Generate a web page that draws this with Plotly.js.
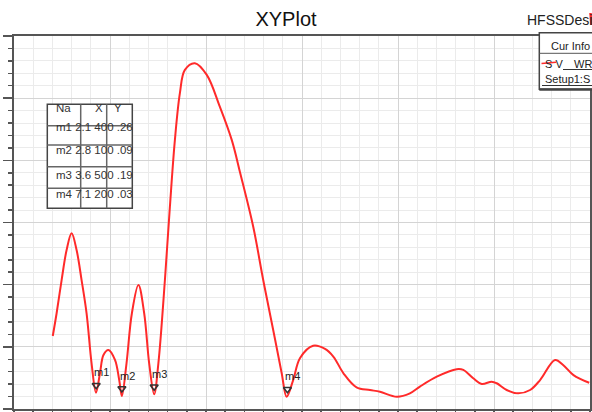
<!DOCTYPE html>
<html><head><meta charset="utf-8">
<script src="https://cdn.plot.ly/plotly-3.0.1.min.js"></script>
<style>html,body{margin:0;padding:0;background:#fff;}#plot{width:592px;height:412px;}</style>
</head><body><div id="plot"></div>
<script>
// Frequency (x) and curve values (y)
const freq = [1.01,1.11,1.24,1.37,1.50,1.63,1.76,1.89,2.02,2.135,2.24,2.33,2.46,2.63,2.74,2.81,2.93,3.07,3.24,3.39,3.52,3.65,3.76,3.93,4.06,4.19,4.32,4.45,4.71,5.02,5.36,5.67,5.89,6.23,6.49,6.75,6.97,7.10,7.27,7.45,7.79,8.10,8.32,8.58,8.92,9.27,9.53,9.97,10.31,10.57,11.01,11.53,11.70,11.96,12.18,12.44,12.57,12.83,13.13,13.44,13.70,14.09,14.30,14.57,14.98];
const vals = [4.11,5.39,7.26,8.95,9.89,8.95,7.26,5.39,2.57,0.92,2.03,3.04,3.32,2.76,1.63,0.73,2.57,5.39,6.98,5.39,2.57,0.83,2.57,7.26,11.39,15.15,17.78,19.09,19.47,18.81,17.02,15.15,13.29,10.26,7.26,4.45,2.03,0.69,1.63,2.87,3.56,3.38,2.94,2.01,1.22,1.07,0.97,0.69,0.88,1.26,1.82,2.24,2.20,1.73,1.41,1.54,1.45,1.07,0.88,1.07,1.63,2.76,2.48,1.91,1.48];

// Markers
const markerNames = ['m1','m2','m3','m4'];
const markerX = [2.14, 2.81, 3.65, 7.12];
const markerY = [0.92, 0.73, 0.83, 0.69];
const markerXText = ['2.1 400','2.8 100','3.6 500','7.1 200'];
const markerYText = ['.26','.09','.19','.03'];
const tableHeader = ['Na','X','Y'];

// pixel -> paper helpers for decorations
const L=14, R=590, T=36, B=409;
const PX = p => (p-L)/(R-L);
const PY = p => (B-p)/(B-T);
const FONT = 'Arial, "Liberation Sans", sans-serif';

const traces = [
  {x: freq, y: vals, type:'scatter', mode:'lines',
   line:{color:'#ff2a2a', width:2, shape:'spline', smoothing:1.0}, hoverinfo:'skip'},
  {x: markerX, y: markerY.map(v=>v+0.42), type:'scatter', mode:'markers',
   marker:{symbol:'triangle-down-open', size:7, color:'#333', line:{width:1.5, color:'#333'}}, hoverinfo:'skip'}
];

const shapes = [];
const annotations = [];
function line(x0,y0,x1,y1,color,width){
  shapes.push({type:'line', xref:'paper', yref:'paper', x0:PX(x0), y0:PY(y0), x1:PX(x1), y1:PY(y1), line:{color:color, width:width}});
}
function rect(x0,y0,x1,y1,color,width){
  shapes.push({type:'rect', xref:'paper', yref:'paper', x0:PX(x0), y0:PY(y0), x1:PX(x1), y1:PY(y1), fillcolor:'#ffffff', line:{color:color, width:width}});
}
function text(t,x,y,size,anchor,color){
  annotations.push({text:t, xref:'paper', yref:'paper', x:PX(x), y:PY(y), xanchor:anchor||'left', yanchor:'middle', showarrow:false,
    font:{family:FONT, size:size, color:color||'#222'}});
}

// Marker labels
markerNames.forEach((n,i)=>{
  annotations.push({text:n, x:markerX[i], y:markerY[i]+0.42, xref:'x', yref:'y', xanchor:'left', yanchor:'middle',
    xshift:-4, yshift:13, showarrow:false, font:{family:FONT, size:11, color:'#222'}});
});

// Marker table
rect(47.3,104.3,132.3,208.3,'#444',1.5);
[125.7,145,166.7,188.3].forEach(y=>line(47.3,y,132.3,y,'#666',1.5));
[80.7,106.7].forEach(x=>line(x,104.3,x,208.3,'#666',1.5));
text(tableHeader[0],54,108,11.5,'left','#333');
text(tableHeader[1],93,108,11.5,'left','#333');
text(tableHeader[2],112,108,11.5,'left','#333');
const rowY=[126.7,150,175,194.3];
markerNames.forEach((n,i)=>text(n+' '+markerXText[i]+' '+markerYText[i],53.5,rowY[i],11.5,'left','#333'));

// Cur Info box
rect(539.3,32.7,640,89.3,'#444',1.5);
line(539.3,89.5,640,89.5,'#444',2.5);
line(539.3,53.3,640,53.3,'#555',1);
text('Cur Info',570,45.5,11,'center','#222');
text('S V',542.5,64,11,'left','#222');
line(541.5,63.5,556,62.2,'#ff2a2a',1.5);
text('WR',572,64,11,'left','#222');
line(563,69.5,640,69.5,'#333',1);
text('Setup1:S',542.5,79.5,11,'left','#222');
line(542,85.5,640,85.5,'#333',1);

// Top-right text and icon
text('HFSSDesi',525,19.5,14,'left','#222');
line(590.5,13,591.5,25,'#ff2a2a',2.5);

const layout = {
  width:592, height:412,
  margin:{l:L, r:592-R, t:T, b:412-B, pad:0},
  paper_bgcolor:'#ffffff', plot_bgcolor:'#ffffff',
  showlegend:false,
  title:{text:'XYPlot', font:{family:FONT, size:20, color:'#111'}, xref:'container', yref:'container',
         x:286/592, xanchor:'center', y:1-19/412, yanchor:'middle'},
  xaxis:{range:[0,15], tick0:0, dtick:2.5, showticklabels:false, showgrid:true, gridcolor:'#d4d4d4', gridwidth:1,
         zeroline:false, showline:true, linecolor:'#555', linewidth:2, mirror:true,
         ticks:'outside', ticklen:6, tickcolor:'#555', tickwidth:1.5,
         minor:{dtick:0.5, showgrid:true, gridcolor:'#ebebeb', gridwidth:1, ticks:'outside', ticklen:4, tickcolor:'#555', tickwidth:1.5}},
  yaxis:{range:[0,21], tick0:0, dtick:3.5, showticklabels:false, showgrid:true, gridcolor:'#d4d4d4', gridwidth:1,
         zeroline:false, showline:true, linecolor:'#555', linewidth:2, mirror:true,
         ticks:'outside', ticklen:9, tickcolor:'#555', tickwidth:1.5,
         minor:{dtick:0.7, showgrid:true, gridcolor:'#ebebeb', gridwidth:1, ticks:'outside', ticklen:4, tickcolor:'#555', tickwidth:1.5}},
  shapes:shapes, annotations:annotations
};
Plotly.newPlot('plot', traces, layout, {staticPlot:true, displayModeBar:false});
</script></body></html>
